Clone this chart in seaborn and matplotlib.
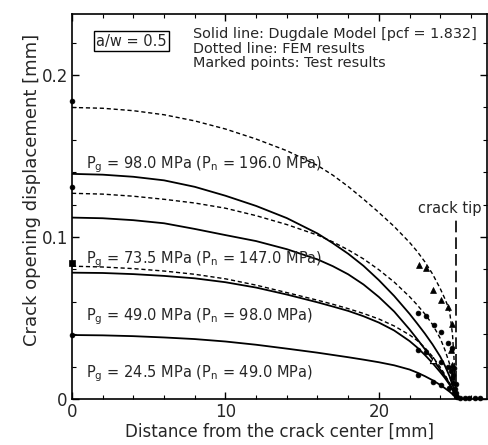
import numpy as np
import pandas as pd
import matplotlib
matplotlib.use("Agg")
import matplotlib.pyplot as plt
from matplotlib.ticker import MultipleLocator
import seaborn as sns

# Sampling positions along the crack [mm]
xs_curve = [0, 2, 4, 6, 8, 10, 12, 14, 16, 17, 18, 19, 20, 21, 22, 22.5, 23, 23.5,
            24, 24.3, 24.6, 24.8, 25.0, 25.1]

# Dugdale model (solid) crack opening displacement [mm]
dug_y_98 = [0.1390, 0.1385, 0.1372, 0.1350, 0.1310, 0.1255, 0.1192, 0.1117, 0.1022,
            0.0962, 0.0897, 0.0822, 0.0734, 0.0636, 0.0526, 0.0466, 0.0404, 0.0337,
            0.0262, 0.0207, 0.0142, 0.0087, 0.0030, 0.0]
dug_y_735 = [0.1120, 0.1116, 0.1104, 0.1085, 0.1050, 0.1012, 0.0975, 0.0925, 0.0862,
             0.0820, 0.0770, 0.0707, 0.0630, 0.0540, 0.0430, 0.0370, 0.0308, 0.0247,
             0.0182, 0.0142, 0.0096, 0.0060, 0.0025, 0.0]
dug_y_49 = [0.0780, 0.0778, 0.0771, 0.0760, 0.0745, 0.0721, 0.0688, 0.0645, 0.0597,
            0.0571, 0.0544, 0.0511, 0.0472, 0.0423, 0.0358, 0.0318, 0.0272, 0.0222,
            0.0166, 0.0130, 0.0090, 0.0060, 0.0025, 0.0]
dug_y_245 = [0.0395, 0.0393, 0.0388, 0.0380, 0.0370, 0.0355, 0.0335, 0.0311, 0.0286,
             0.0272, 0.0258, 0.0243, 0.0227, 0.0208, 0.0182, 0.0163, 0.0141, 0.0116,
             0.0087, 0.0067, 0.0046, 0.0030, 0.0012, 0.0]

# FEM (dotted) profiles
xs_fem = [0, 2, 4, 6, 8, 10, 12, 14, 16, 17, 18, 19, 20, 21, 22, 22.5, 23, 23.5,
          24, 24.3, 24.6, 24.8, 24.9, 25.0]
fem_y_98 = [0.1800, 0.1795, 0.1780, 0.1755, 0.1717, 0.1667, 0.1605, 0.1533, 0.1442,
            0.1382, 0.1312, 0.1234, 0.1152, 0.1065, 0.0967, 0.0911, 0.0847, 0.0772,
            0.0682, 0.0620, 0.0550, 0.0400, 0.0250, 0.0]
fem_y_735 = [0.1270, 0.1265, 0.1252, 0.1233, 0.1210, 0.1178, 0.1132, 0.1077, 0.1012,
             0.0970, 0.0921, 0.0865, 0.0798, 0.0722, 0.0632, 0.0581, 0.0525, 0.0460,
             0.0375, 0.0305, 0.0220, 0.0150, 0.0090, 0.0]
fem_y_49 = [0.0820, 0.0815, 0.0805, 0.0790, 0.0770, 0.0742, 0.0703, 0.0657, 0.0610,
            0.0585, 0.0558, 0.0528, 0.0494, 0.0451, 0.0396, 0.0361, 0.0317, 0.0262,
            0.0197, 0.0152, 0.0100, 0.0060, 0.0035, 0.0]

# Test results
test_center_x = [0, 0, 0]
test_center_y = [0.184, 0.131, 0.0395]
test_center_sq_x = [0]
test_center_sq_y = [0.084]
test_tri_x = [22.6, 23.1, 23.55, 24.05, 24.5, 24.75, 24.8, 24.7]
test_tri_y = [0.083, 0.081, 0.067, 0.061, 0.057, 0.046, 0.021, 0.030]
test_dot_x = [22.55, 23.05, 23.6, 24.05, 24.5, 24.75, 22.55, 23.1, 24.05, 24.5, 24.85,
              22.55, 23.55, 24.05, 24.6, 24.9, 25.0, 25.1, 24.85, 24.95, 24.8, 25.05,
              24.7, 24.9, 25.0, 25.3, 25.6, 25.9, 26.3, 26.6]
test_dot_y = [0.053, 0.051, 0.0457, 0.0416, 0.0344, 0.0315, 0.030, 0.029, 0.023, 0.020, 0.015,
              0.0148, 0.0107, 0.0086, 0.0066, 0.0035, 0.002, 0.001, 0.010, 0.006, 0.013, 0.004,
              0.017, 0.019, 0.009, 0.0008, 0.0008, 0.0006, 0.0005, 0.0005]
test_open_x = [23.55]
test_open_y = [0.024]

load_labels = [
    r"P$_\mathregular{g}$ = 98.0 MPa (P$_\mathregular{n}$ = 196.0 MPa)",
    r"P$_\mathregular{g}$ = 73.5 MPa (P$_\mathregular{n}$ = 147.0 MPa)",
    r"P$_\mathregular{g}$ = 49.0 MPa (P$_\mathregular{n}$ = 98.0 MPa)",
    r"P$_\mathregular{g}$ = 24.5 MPa (P$_\mathregular{n}$ = 49.0 MPa)",
]
label_y = [0.1426, 0.0840, 0.0488, 0.0136]
crack_tip_x = 25.0

sns.set_theme(style="ticks")
plt.rcParams["font.family"] = ["DejaVu Sans"]
plt.rcParams["mathtext.fontset"] = "custom"
plt.rcParams["mathtext.rm"] = "DejaVu Sans"

fig = plt.figure(figsize=(4.88, 4.45), dpi=100)
ax = fig.add_axes([72 / 488, 46 / 445, 415 / 488, 385 / 445])

rows = []
for name, ys in [("d98", dug_y_98), ("d735", dug_y_735), ("d49", dug_y_49), ("d245", dug_y_245)]:
    rows += [(name, x, y) for x, y in zip(xs_curve, ys)]
dug = pd.DataFrame(rows, columns=["curve", "x", "y"])
rows = []
for name, ys in [("f98", fem_y_98), ("f735", fem_y_735), ("f49", fem_y_49)]:
    rows += [(name, x, y) for x, y in zip(xs_fem, ys)]
fem = pd.DataFrame(rows, columns=["curve", "x", "y"])

sns.lineplot(data=dug, x="x", y="y", units="curve", estimator=None, sort=False,
             color="black", lw=1.3, ax=ax)
sns.lineplot(data=fem, x="x", y="y", units="curve", estimator=None, sort=False,
             color="black", lw=1.0, ax=ax, dashes=False, linestyle=(0, (3, 2)))

sns.scatterplot(x=test_tri_x, y=test_tri_y, marker="^", s=18, color="black",
                edgecolor="black", linewidth=0.5, ax=ax, zorder=3)
sns.scatterplot(x=test_dot_x, y=test_dot_y, marker="o", s=12, color="black",
                edgecolor="black", linewidth=0.5, ax=ax, zorder=3, clip_on=False)
sns.scatterplot(x=test_open_x, y=test_open_y, marker="^", s=20, color="white",
                edgecolor="black", linewidth=0.8, ax=ax, zorder=3)
sns.scatterplot(x=test_center_x, y=test_center_y, marker="o", s=12, color="black",
                edgecolor="black", linewidth=0.5, ax=ax, zorder=3, clip_on=False)
sns.scatterplot(x=test_center_sq_x, y=test_center_sq_y, marker="s", s=14, color="black",
                edgecolor="black", linewidth=0.5, ax=ax, zorder=3, clip_on=False)

# crack tip marker
ax.plot([crack_tip_x, crack_tip_x], [0.0, 0.111], color="black", lw=1.2,
        linestyle=(0, (7, 3)))
ax.text(crack_tip_x - 0.4, 0.113, "crack tip", ha="center", va="bottom", fontsize=10.5)

for lab, yv in zip(load_labels, label_y):
    ax.text(0.9, yv, lab, ha="left", va="baseline", fontsize=10.5)

ax.text(1.55, 0.221, "a/w = 0.5", ha="left", va="center", fontsize=10.5,
        bbox=dict(boxstyle="square,pad=0.15", fc="white", ec="black", lw=1.0))
ax.text(7.9, 0.2295,
        "Solid line: Dugdale Model [pcf = 1.832]\nDotted line: FEM results\nMarked points: Test results",
        ha="left", va="top", fontsize=10.4, linespacing=1.05)

ax.set_xlim(0, 27.05)
ax.set_ylim(0, 0.2377)
ax.xaxis.set_major_locator(MultipleLocator(10))
ax.xaxis.set_minor_locator(MultipleLocator(2))
ax.yaxis.set_major_locator(MultipleLocator(0.1))
ax.yaxis.set_minor_locator(MultipleLocator(0.02))
ax.set_xticks([0, 10, 20])
ax.set_xticklabels(["0", "10", "20"])
ax.set_yticks([0, 0.1, 0.2])
ax.set_yticklabels(["0", "0.1", "0.2"])
ax.tick_params(which="both", direction="in", top=True, right=True, color="black",
               labelsize=12, pad=3)
ax.tick_params(which="major", length=5, width=1)
ax.tick_params(which="minor", length=3, width=0.8)
for sp in ax.spines.values():
    sp.set_color("black")
    sp.set_linewidth(1.2)

ax.set_xlabel("Distance from the crack center [mm]", fontsize=12, labelpad=1)
ax.set_ylabel("Crack opening displacement [mm]", fontsize=13)
ax.yaxis.set_label_coords(-0.075, 0.543)

fig.savefig("out.png", dpi=100)
